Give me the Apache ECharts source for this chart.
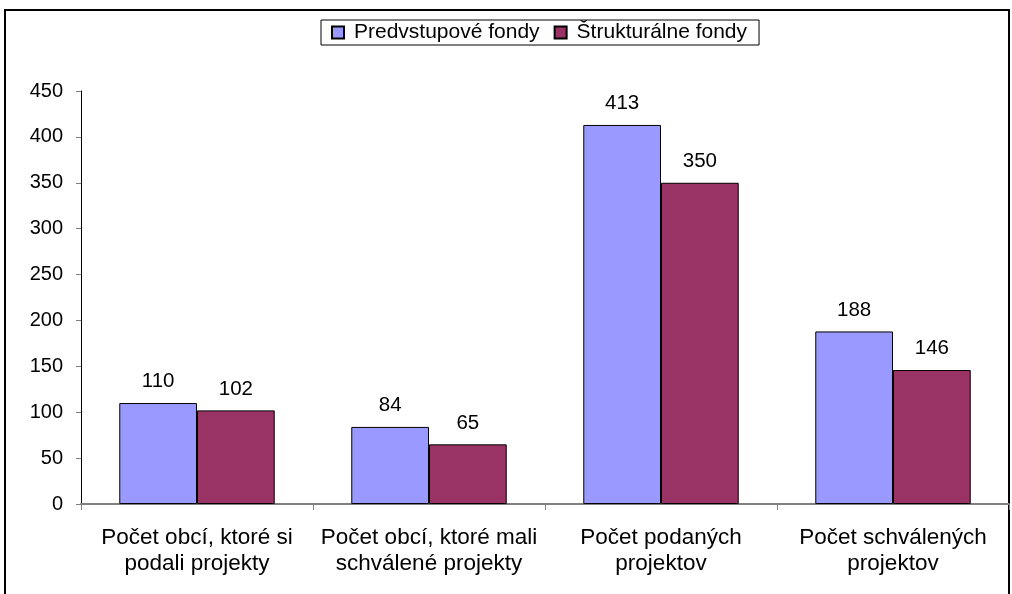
<!DOCTYPE html>
<html>
<head>
<meta charset="utf-8">
<script src="https://cdn.jsdelivr.net/npm/echarts@6/dist/echarts.min.js"></script>
<style>
html, body { margin: 0; padding: 0; background: #fff; }
#chart { width: 1012px; height: 594px; }
</style>
</head>
<body>
<div id="chart"></div>
<script>
var categories = [
	'Počet obcí, ktoré si\npodali projekty',
	'Počet obcí, ktoré mali\nschválené projekty',
	'Počet podaných\nprojektov',
	'Počet schválených\nprojektov'
];
var predvstupove = [110, 84, 413, 188];
var strukturalne = [102, 65, 350, 146];
var seriesNames = ['Predvstupové fondy', 'Štrukturálne fondy'];

var chart = echarts.init(document.getElementById('chart'));
var font = 'Liberation Sans, Arial, sans-serif';
var option = {
	animation : false,
	backgroundColor : '#fff',
	textStyle : { fontFamily : font },
	graphic : [ {
		type : 'polyline',
		shape : { points : [ [5, 600], [5, 10], [1009, 10], [1009, 600] ] },
		style : { stroke : '#000', lineWidth : 2, fill : null },
		silent : true
	} ],
	legend : {
		data : seriesNames,
		icon : 'rect',
		top : 20,
		left : 321,
		itemWidth : 12,
		itemHeight : 12,
		itemGap : 14,
		padding : [2, 12, 2, 10],
		borderColor : '#000',
		borderWidth : 1,
		textStyle : { fontSize : 21, color : '#000', fontFamily : font, padding : [0, 0, 0, 5] }
	},
	grid : {
		left : 81,
		right : 3,
		top : 91,
		bottom : 90
	},
	xAxis : {
		type : 'category',
		data : categories,
		axisLine : { lineStyle : { color : '#808080', width : 2 } },
		axisTick : { show : true, length : 6, lineStyle : { color : '#808080' } },
		axisLabel : {
			color : '#000',
			fontSize : 22.5,
			lineHeight : 26,
			margin : 21,
			interval : 0,
			fontFamily : font
		}
	},
	yAxis : {
		type : 'value',
		min : 0,
		max : 450,
		interval : 50,
		axisLine : { show : true, lineStyle : { color : '#000' } },
		axisTick : { show : true, inside : false, length : 5, lineStyle : { color : '#808080' } },
		splitLine : { show : false },
		axisLabel : { color : '#000', fontSize : 20, margin : 18, fontFamily : font }
	},
	series : [ {
		name : seriesNames[0],
		type : 'bar',
		data : predvstupove,
		barGap : '0%',
		barCategoryGap : '33%',
		itemStyle : { color : '#9999FF', borderColor : '#000', borderWidth : 1 },
		label : { show : true, position : 'top', distance : 11, color : '#000', fontSize : 20.5, fontFamily : font }
	}, {
		name : seriesNames[1],
		type : 'bar',
		data : strukturalne,
		itemStyle : { color : '#993366', borderColor : '#000', borderWidth : 1 },
		label : { show : true, position : 'top', distance : 11, color : '#000', fontSize : 20.5, fontFamily : font }
	} ]
};
chart.setOption(option);
</script>
</body>
</html>
